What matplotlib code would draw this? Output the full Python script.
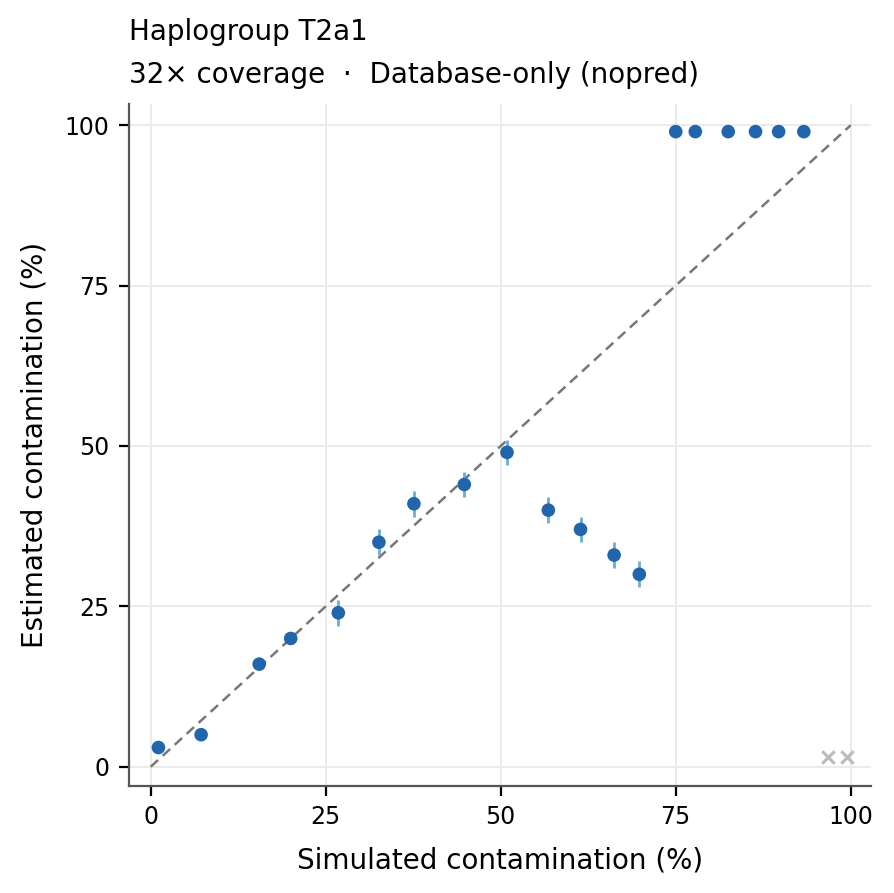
import matplotlib
matplotlib.use("Agg")
import matplotlib.pyplot as plt
import numpy as np

title = "Haplogroup T2a1"
subtitle = "32× coverage  ·  Database-only (nopred)"

sim_x = [1.1, 7.2, 15.5, 20.0, 26.8, 32.6, 37.6, 44.8, 50.9, 56.8, 61.4, 66.2, 69.8,
         75.0, 77.8, 82.5, 86.4, 89.7, 93.3]
est_y = [3, 5, 16, 20, 24, 35, 41, 44, 49, 40, 37, 33, 30,
         99, 99, 99, 99, 99, 99]
est_err = [0.5, 0.5, 0.6, 0.7, 2, 2, 2, 2, 2, 2, 2, 2, 2,
           0, 0, 0, 0, 0, 0]
failed_x = [96.7, 99.4]
failed_y = [1.5, 1.5]

ticks = [0, 25, 50, 75, 100]

fig = plt.figure(figsize=(4.47, 4.465), dpi=200)
ax = fig.add_axes([0.1443, 0.1198, 0.83, 0.7637])

ax.plot([0, 100], [0, 100], ls=(0, (4, 2.5)), color="#777777", lw=0.9, zorder=2)
ax.errorbar(sim_x, est_y, yerr=est_err, fmt="none", ecolor="#6baed6", elinewidth=1.0, zorder=3)
ax.scatter(sim_x, est_y, s=24, color="#2166ac", edgecolors="none", zorder=4)
ax.scatter(failed_x, failed_y, marker="x", s=20, color="#bbbbbb", linewidths=1.1, zorder=4)

ax.set_xlim(-3.1, 102.9)
ax.set_ylim(-3.0, 103.3)
ax.set_xticks(ticks)
ax.set_yticks(ticks)
ax.tick_params(labelsize=8.5, length=3.5, width=0.8)
ax.grid(True, color="#ebebeb", lw=0.7, zorder=0)
ax.set_axisbelow(True)
for s in ["top", "right"]:
    ax.spines[s].set_visible(False)
for s in ["left", "bottom"]:
    ax.spines[s].set_color("#555555")
    ax.spines[s].set_linewidth(0.8)

ax.set_xlabel("Simulated contamination (%)", fontsize=10, labelpad=6)
ax.set_ylabel("Estimated contamination (%)", fontsize=10, labelpad=6)
ax.set_title(title + "\n" + subtitle, loc="left", fontsize=10, linespacing=1.7, pad=7.5)

fig.savefig("out.png", dpi=200)
